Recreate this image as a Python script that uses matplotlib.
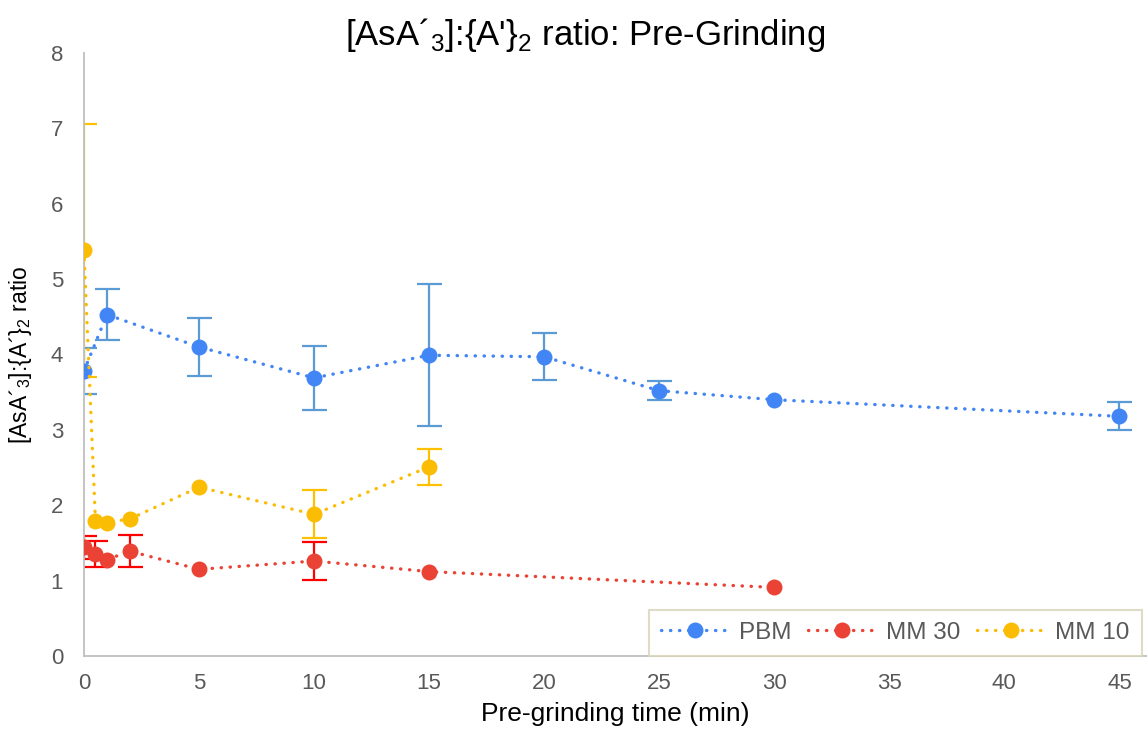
import numpy as np
import matplotlib.pyplot as plt

plt.rcParams['font.family'] = ['Liberation Sans', 'DejaVu Sans']
plt.rcParams['mathtext.fontset'] = 'custom'
plt.rcParams['mathtext.rm'] = 'Liberation Sans'

# PBM series
pbm_x = [0, 1, 5, 10, 15, 20, 25, 30, 45]
pbm_y = [3.78, 4.53, 4.10, 3.69, 3.99, 3.97, 3.52, 3.40, 3.18]
pbm_err = [0.31, 0.34, 0.39, 0.42, 0.94, 0.31, 0.13, 0.0, 0.185]

# MM 30 series
mm30_x = [0, 0.5, 1, 2, 5, 10, 15, 30]
mm30_y = [1.44, 1.35, 1.28, 1.39, 1.15, 1.26, 1.12, 0.91]
mm30_err = [0.15, 0.17, 0.0, 0.21, 0.0, 0.25, 0.0, 0.0]

# MM 10 series
mm10_x = [0, 0.5, 1, 2, 5, 10, 15]
mm10_y = [5.38, 1.79, 1.77, 1.82, 2.24, 1.88, 2.51]
mm10_err = [1.68, 0.0, 0.0, 0.0, 0.0, 0.32, 0.24]

series = [
    ('PBM', pbm_x, pbm_y, pbm_err, '#4285F4', '#5B9BD5'),
    ('MM 30', mm30_x, mm30_y, mm30_err, '#EA4335', '#FF0000'),
    ('MM 10', mm10_x, mm10_y, mm10_err, '#FBBC04', '#FFC000'),
]

fig = plt.figure(figsize=(11.47, 7.40), dpi=100)
ax = fig.add_axes([0.0732, 0.1135, 0.9268, 0.8149])

for i, (name, x, y, err, col, ecol) in enumerate(series):
    x, y, err = np.array(x), np.array(y), np.array(err)
    has = err > 0  # only points that carry an error bar
    ax.errorbar(x[has], y[has], yerr=err[has], fmt='none', ecolor=ecol,
                elinewidth=1.6, capsize=9, capthick=1.6, zorder=2 + i * 0.1)
    ax.plot(x, y, color=col, linestyle=(0, (0.1, 2.6)), linewidth=2.4,
            dash_capstyle='round', marker='o', markersize=11.5,
            markeredgewidth=0, label=name, zorder=4 + i * 0.1)

ax.set_xlim(0, 46.2)
ax.set_ylim(0, 8)
ax.set_xticks(np.arange(0, 46, 5))
ax.set_yticks(np.arange(0, 9, 1))
ax.tick_params(length=0, labelsize=16, labelcolor='#595959')
ax.tick_params(axis='x', pad=12)
ax.tick_params(axis='y', pad=15)

for s in ['top', 'right']:
    ax.spines[s].set_visible(False)
for s in ['left', 'bottom']:
    ax.spines[s].set_color('#BFBFBF')
    ax.spines[s].set_linewidth(1.3)

ax.set_xlabel('Pre-grinding time (min)', fontsize=19, labelpad=6)
ax.set_ylabel(r"[AsA´$_\mathregular{3}$]:{A´}$_\mathregular{2}$ ratio", fontsize=16.5, labelpad=12)
fig.suptitle(r"[AsA´$_\mathregular{3}$]:{A'}$_\mathregular{2}$ ratio: Pre-Grinding",
             fontsize=25, x=0.51, y=0.953, va='center')

leg = ax.legend(loc='lower right', bbox_to_anchor=(0.995, 0.0), ncol=3,
                fontsize=17.5, frameon=True, fancybox=False, borderaxespad=0,
                handlelength=2.8, handletextpad=0.4, columnspacing=0.7,
                borderpad=0.5)
leg.get_frame().set_edgecolor('#D9D3B8')
leg.get_frame().set_linewidth(1.5)
for t in leg.get_texts():
    t.set_color('#595959')

fig.savefig('out.png', dpi=100)
